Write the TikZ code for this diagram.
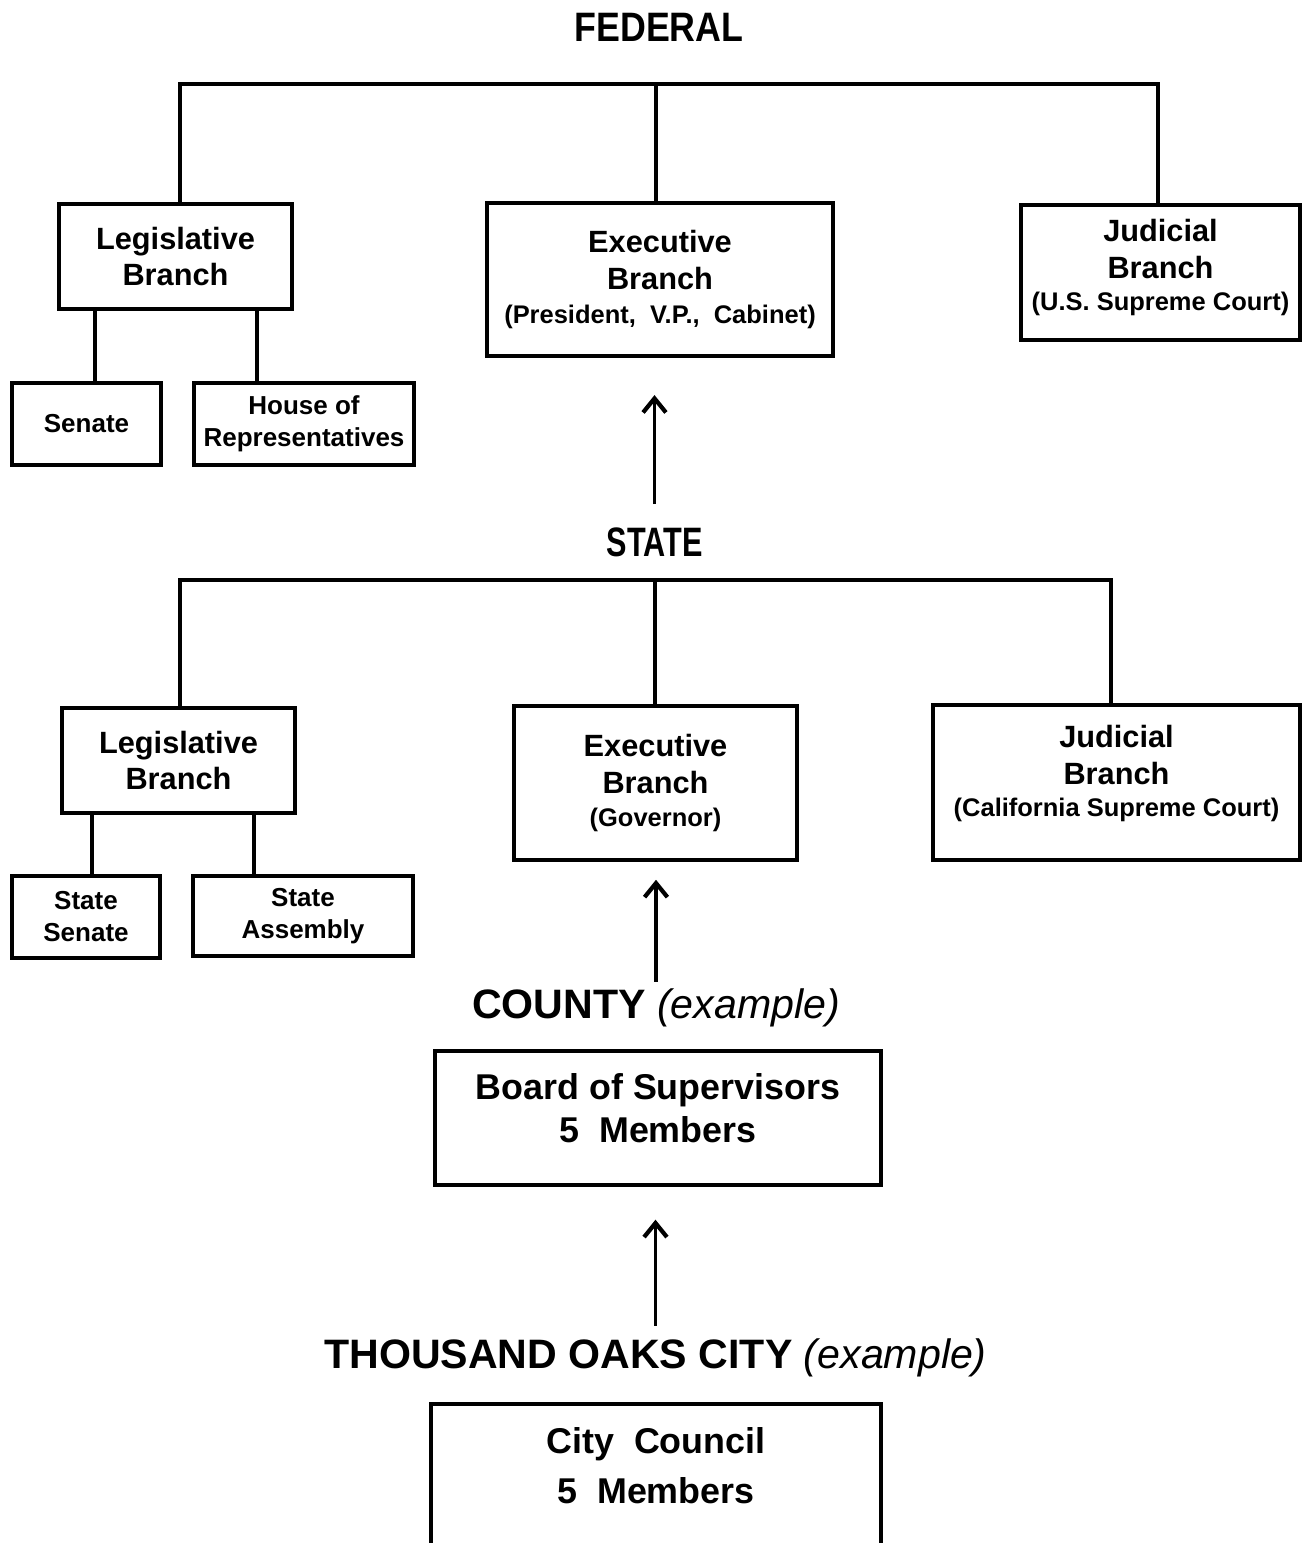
\documentclass[tikz,border=0pt]{standalone}
\usepackage{fontspec}
\usepackage{graphicx}
\setmainfont{Liberation Sans}
\usetikzlibrary{arrows.meta}

\tikzset{
  boxsize/.style 2 args={minimum width=#1*0.569pt, minimum height=#2*0.569pt},
  box/.style={draw, line width=2.5pt, align=center, inner sep=0pt,
    font=\bfseries\fontsize{17.5}{21}\selectfont},
  subbox/.style={box, font=\bfseries\fontsize{14.8}{18.2}\selectfont},
  bigbox/.style={box, font=\bfseries\fontsize{20.4}{24.5}\selectfont},
  level/.style={anchor=base, inner sep=0pt, font=\bfseries\fontsize{23.4}{28}\selectfont},
  link/.style={line width=2.5pt},
  upward/.style={line width=2.1pt, -{Straight Barb[length=8pt,width=13pt,line width=2.4pt]}},
}
\newcommand{\paren}[1]{{\fontsize{14.5}{17}\selectfont #1}}
\newcommand{\eg}{{\mdseries\itshape (example)}}

\begin{document}
\begin{tikzpicture}[x=0.02cm, y=-0.02cm]
	\clip (0,0) rectangle (1304,1543);
	
	% federal
	\node[level] (federal) at (659,41) {\scalebox{0.87}[1]{FEDERAL}};
	\coordinate (fedL) at (178,84);
	\coordinate (fedR) at (1160,84);
	\coordinate (fj1) at (180,84);
	\coordinate (fj2) at (656,84);
	\coordinate (fj3) at (1158,84);
	\coordinate (fx1) at (95,0);
	\coordinate (fx2) at (257,0);
	\draw[link] (fedL) -- (fedR);
	
	\node[box, boxsize={233}{105}] (fedleg) at (175.5,256.5) {Legislative\\Branch};
	\node[box, boxsize={346}{153}] (fedexe) at (660,279.5) {Executive\\Branch\\[-2pt]\paren{(President,\ \ V.P.,\ \ Cabinet)}};
	\node[box, boxsize={279}{135}, text depth=9pt] (fedjud) at (1160.5,272.5) {Judicial\\Branch\\[-3pt]\paren{(U.S. Supreme Court)}};
	\node[subbox, boxsize={149}{82}] (senate) at (86.5,424) {Senate};
	\node[subbox, boxsize={220}{82}] (house) at (304,424) {House of\\Representatives};
	
	\draw[link] (fj1) -- (fj1 |- fedleg.north);
	\draw[link] (fj2) -- (fj2 |- fedexe.north);
	\draw[link] (fj3) -- (fj3 |- fedjud.north);
	\draw[link] (fedleg.south -| fx1) -- (senate.north -| fx1);
	\draw[link] (fedleg.south -| fx2) -- (house.north -| fx2);
	
	% state
	\node[level] (state) at (654.5,556) {\scalebox{0.745}[1]{STATE}};
	\coordinate (stL) at (178,580);
	\coordinate (stR) at (1113,580);
	\coordinate (sj1) at (180,580);
	\coordinate (sj2) at (655,580);
	\coordinate (sj3) at (1111,580);
	\coordinate (sx1) at (92,0);
	\coordinate (sx2) at (254,0);
	\draw[link] (stL) -- (stR);
	
	\node[box, boxsize={233}{105}] (stleg) at (178.5,760.5) {Legislative\\Branch};
	\node[box, boxsize={283}{154}] (stexe) at (655.5,783) {Executive\\Branch\\[-2pt]\paren{(Governor)}};
	\node[box, boxsize={367}{155}, text depth=13pt] (stjud) at (1116.5,782.5) {Judicial\\Branch\\[-3pt]\paren{(California Supreme Court)}};
	\node[subbox, boxsize={148}{82}] (stsenate) at (86,917) {State\\Senate};
	\node[subbox, boxsize={220}{80}] (assembly) at (303,916) {State\\Assembly};
	
	\draw[link] (sj1) -- (sj1 |- stleg.north);
	\draw[link] (sj2) -- (sj2 |- stexe.north);
	\draw[link] (sj3) -- (sj3 |- stjud.north);
	\draw[link] (stleg.south -| sx1) -- (stsenate.north -| sx1);
	\draw[link] (stleg.south -| sx2) -- (assembly.north -| sx2);
	
	\draw[upward, shorten <=13pt, shorten >=21pt] (state.north) -- (state.north |- fedexe.south);
	
	% county
	\node[level] (county) at (656,1018) {COUNTY \eg};
	\node[bigbox, boxsize={446}{134}, text depth=11.4pt] (board) at (658,1118) {Board of Supervisors\\5\ \ Members};
	\draw[upward, shorten <=3.5pt, shorten >=10pt] (county.north) -- (county.north |- stexe.south);
	
	% city
	\node[level] (city) at (655.5,1368) {THOUSAND OAKS CITY \eg};
	\node[bigbox, draw=none, boxsize={446}{120}, font=\bfseries\fontsize{20.4}{28.5}\selectfont] (council) at (656,1466) {City\ \ Council\\5\ \ Members};
	\draw[link] ([yshift=-3cm]council.south west) -- (council.north west) -- (council.north east) -- ([yshift=-3cm]council.south east);
	\draw[upward, shorten <=7pt, shorten >=18.5pt] (city.north) -- (city.north |- board.south);
\end{tikzpicture}
\end{document}
